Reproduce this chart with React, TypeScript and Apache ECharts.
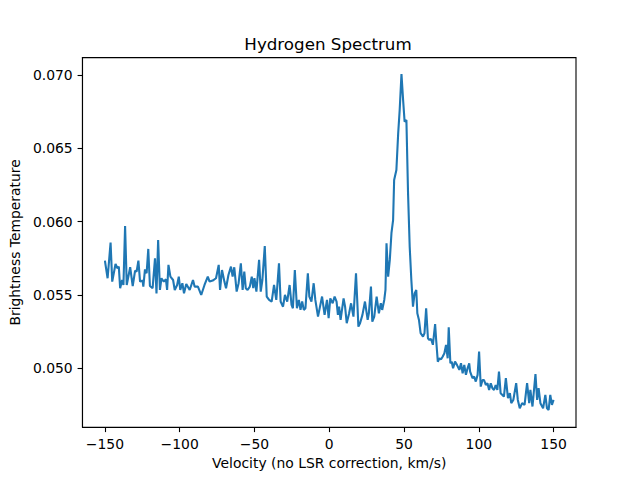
import * as echarts from "echarts";
import { useEffect, useRef } from "react";

// velocity (km/s) and brightness temperature
const velocity = [
  -150, -148.2, -146.2, -145.1, -142.9, -141.6, -140.7, -139.8, -138.5, -137.6,
  -136.5, -135.4, -133.1, -131.4, -129.8, -128.8, -127.6, -126.5, -124.8, -124.3,
  -123.2, -122.1, -121, -119.9, -118.1, -116.5, -115.5, -114.4, -113.2, -112.2,
  -110.6, -109.2, -108.4, -107.5, -106.2, -104.4, -103.3, -101.7, -100.6, -99.6,
  -98.2, -97.1, -95.6, -93.3, -91.1, -90, -87.8, -85.6, -83.4, -81.2,
  -80, -77.9, -75.7, -73.9, -73, -71.7, -70.1, -69, -67.4, -65.7,
  -64.6, -63.5, -61.9, -60.6, -59.1, -57.9, -56.8, -55.8, -54.6, -53.1,
  -51.8, -50.8, -50, -48.7, -46.9, -45.8, -44.7, -43.1, -41.8, -40.2,
  -38.5, -36.9, -35.4, -33.6, -32.5, -30.9, -29.6, -28.1, -26.5, -25.2,
  -24.3, -23, -21.6, -20.3, -19.2, -18.1, -17, -15.9, -14.3, -13.3,
  -11.9, -10.4, -9.3, -7.5, -6.6, -4.8, -3.1, -1.5, -0.4, 0.7,
  2.3, 3.6, 4.9, 5.8, 6.6, 7.6, 9.6, 10.6, 11.7, 13.3,
  14.6, 16.2, 17.9, 19.5, 20.6, 22.2, 23.9, 25.7, 26.5, 27.9,
  28.8, 30.1, 31.7, 33.2, 34.5, 35.4, 36.8, 37.6, 38.3, 39.4,
  40.5, 41.6, 42.7, 43.4, 44.9, 46.1, 47.1, 48.3, 49.4, 50.4,
  51.6, 52.7, 53.8, 54.9, 56, 57.1, 58.2, 58.9, 60, 61.1,
  62.7, 63.7, 64.8, 66, 67, 68.1, 69.3, 70.8, 71.5, 72.6,
  73.7, 74.8, 75.9, 77, 78.1, 79.2, 79.9, 81, 81.9, 82.8,
  84.1, 85.4, 87, 88.1, 89.2, 90.3, 91.4, 92.5, 93.6, 94.2,
  95.8, 96.9, 98, 99.2, 100.2, 101.3, 102.5, 103.5, 104.7, 105.8,
  106.9, 108, 109.1, 110.2, 111.3, 112.4, 113.5, 114.6, 115.8, 116.8,
  118.1, 119.5, 120.8, 121.7, 123.1, 125, 126.1, 127.4, 129, 130.6,
  132.3, 133.7, 134.5, 135.9, 137.9, 139, 140, 141.2, 143, 144.5,
  145.6, 146.7, 147.8, 148.9, 150,
];

const brightness = [
  0.05734, 0.05614, 0.05857, 0.05591, 0.05711, 0.05682, 0.05693, 0.05546, 0.05602, 0.05568,
  0.0597, 0.05568, 0.05689, 0.05561, 0.05666, 0.05659, 0.05734, 0.05591, 0.05598, 0.05557,
  0.05675, 0.05648, 0.05814, 0.05561, 0.05546, 0.0575, 0.05511, 0.05875, 0.05534, 0.05614,
  0.05591, 0.05607, 0.05534, 0.05705, 0.05625, 0.05602, 0.05534, 0.05568, 0.05625, 0.05534,
  0.0558, 0.05511, 0.05575, 0.05534, 0.05602, 0.05557, 0.05557, 0.055, 0.05568, 0.05625,
  0.05591, 0.05598, 0.05614, 0.05705, 0.05534, 0.0567, 0.05591, 0.05546, 0.05636, 0.05693,
  0.05625, 0.05689, 0.05523, 0.0558, 0.05716, 0.05534, 0.05659, 0.05546, 0.05534, 0.05557,
  0.05625, 0.05546, 0.05614, 0.05523, 0.05739, 0.05523, 0.05602, 0.05834, 0.05489, 0.05466,
  0.05455, 0.05568, 0.05466, 0.05716, 0.05455, 0.0542, 0.055, 0.05455, 0.05568, 0.05432,
  0.05409, 0.0567, 0.05409, 0.05466, 0.05398, 0.05455, 0.05398, 0.05409, 0.05648, 0.05489,
  0.05455, 0.0558, 0.05466, 0.05352, 0.05398, 0.05489, 0.05364, 0.05466, 0.05341, 0.05477,
  0.05443, 0.05489, 0.05455, 0.05364, 0.0542, 0.0533, 0.05477, 0.0542, 0.05307, 0.05375,
  0.05443, 0.05352, 0.05648, 0.05284, 0.05307, 0.05364, 0.05455, 0.0533, 0.05375, 0.05557,
  0.05318, 0.05352, 0.05489, 0.05375, 0.05443, 0.05398, 0.05466, 0.05534, 0.05852, 0.05625,
  0.05739, 0.05921, 0.06011, 0.06284, 0.06352, 0.06602, 0.06761, 0.07007, 0.0683, 0.06682,
  0.06693, 0.06193, 0.0583, 0.05602, 0.0542, 0.05511, 0.05534, 0.05375, 0.0533, 0.05239,
  0.05216, 0.05239, 0.05409, 0.05205, 0.05193, 0.052, 0.0516, 0.05302, 0.05193, 0.05045,
  0.05068, 0.05061, 0.0508, 0.05102, 0.05159, 0.05068, 0.0528, 0.05034, 0.05045, 0.05,
  0.05045, 0.05023, 0.04989, 0.05034, 0.04966, 0.05023, 0.04955, 0.05, 0.05034, 0.04977,
  0.04932, 0.04943, 0.04909, 0.04955, 0.05114, 0.04875, 0.0492, 0.0492, 0.04886, 0.04898,
  0.04852, 0.04898, 0.04864, 0.04852, 0.04886, 0.04852, 0.04977, 0.0483, 0.04818, 0.04807,
  0.04932, 0.04796, 0.0483, 0.04762, 0.04784, 0.04898, 0.04784, 0.04727, 0.04762, 0.0475,
  0.04898, 0.04762, 0.04852, 0.04739, 0.04961, 0.04784, 0.04864, 0.04762, 0.04727, 0.04818,
  0.04727, 0.04716, 0.04818, 0.0475, 0.04784,
];

const xTicks = [-150, -100, -50, 0, 50, 100, 150];
const yTicks = [0.05, 0.055, 0.06, 0.065, 0.07];

const FONT = "DejaVu Sans";

const axisCommon = {
  axisLine: { show: true, onZero: false, lineStyle: { color: "#000", width: 1.1 } },
  axisTick: { show: true, inside: false, length: 4.9, lineStyle: { color: "#000", width: 1.1 } },
  splitLine: { show: false },
  nameTextStyle: { color: "#000", fontFamily: FONT, fontSize: 13.9 },
};

export default function App() {
  const chartRef = useRef<HTMLDivElement>(null);

  useEffect(() => {
    const chart = echarts.init(chartRef.current!, null, { renderer: "svg" });
    chart.setOption({
      animation: false,
      backgroundColor: "#fff",
      grid: {
        left: 80,
        right: 64,
        top: 57.6,
        bottom: 52.8,
        show: true,
        borderColor: "#000",
        borderWidth: 1.1,
      },
      graphic: [
        {
          type: "text",
          x: 328,
          y: 43.5,
          style: {
            text: "Hydrogen Spectrum",
            fill: "#000",
            font: `16.7px "${FONT}"`,
            textAlign: "center",
            textVerticalAlign: "middle",
          },
        },
      ],
      xAxis: {
        type: "value",
        min: -165,
        max: 165,
        name: "Velocity (no LSR correction, km/s)",
        nameLocation: "middle",
        nameGap: 26,
        ...axisCommon,
        axisTick: { ...axisCommon.axisTick, customValues: xTicks },
        axisLabel: {
          customValues: xTicks,
          margin: 9.8,
          color: "#000",
          fontFamily: FONT,
          fontSize: 13.9,
          formatter: (v: number) => (v < 0 ? "\u2212" + Math.abs(v) : String(v)),
        },
      },
      yAxis: {
        type: "value",
        min: 0.04598,
        max: 0.07119,
        name: "Brightness Temperature",
        nameLocation: "middle",
        nameGap: 55,
        ...axisCommon,
        axisTick: { ...axisCommon.axisTick, customValues: yTicks },
        axisLabel: {
          customValues: yTicks,
          margin: 9.8,
          color: "#000",
          fontFamily: FONT,
          fontSize: 13.9,
          formatter: (v: number) => v.toFixed(3),
        },
      },
      series: [
        {
          type: "line",
          data: velocity.map((v, i) => [v, brightness[i]]),
          showSymbol: false,
          symbol: "none",
          lineStyle: { color: "#1f77b4", width: 2.1 },
          itemStyle: { color: "#1f77b4" },
        },
      ],
    });
    return () => chart.dispose();
  }, []);

  return (
    <div
      ref={chartRef}
      style={{ position: "absolute", left: 0, top: 0, width: 640, height: 480 }}
    />
  );
}
